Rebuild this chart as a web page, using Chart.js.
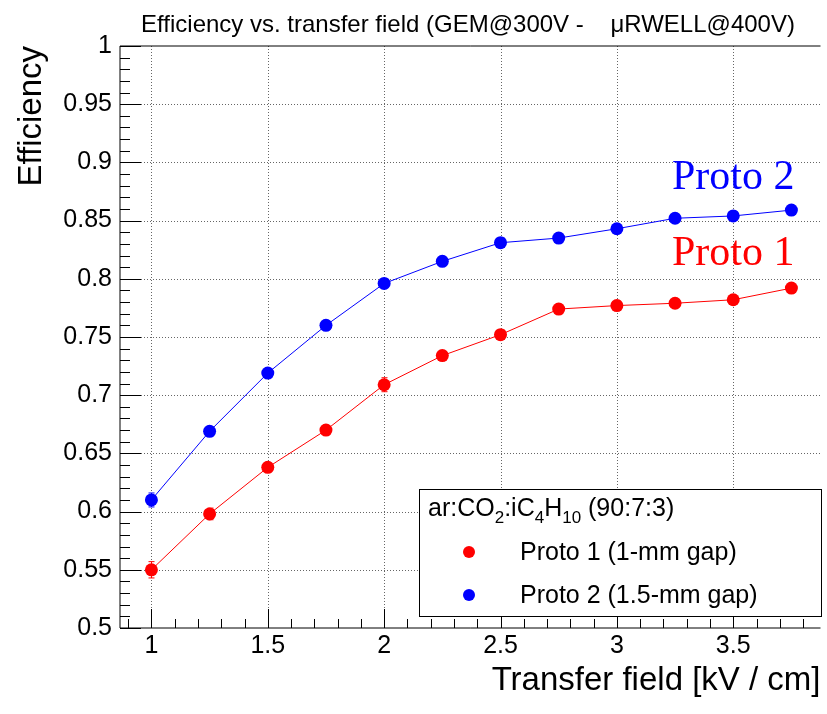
<!DOCTYPE html>
<html><head><meta charset="utf-8">
<script src="https://cdn.jsdelivr.net/npm/chart.js@4.4.0/dist/chart.umd.min.js"></script>
<style>html,body{margin:0;padding:0;background:#fff;overflow:hidden}canvas{display:block}</style>
</head><body>
<canvas id="c" width="827" height="714"></canvas>
<script>
// ---- data ----
const fieldValues = [1, 1.25, 1.5, 1.75, 2, 2.25, 2.5, 2.75, 3, 3.25, 3.5, 3.75];
const proto1Eff = [0.550, 0.598, 0.638, 0.670, 0.709, 0.734, 0.752, 0.774, 0.777, 0.779, 0.782, 0.792];
const proto1Err = [0.007, 0.005, 0.004, 0.004, 0.006, 0.004, 0.004, 0.004, 0.004, 0.004, 0.004, 0.004];
const proto2Eff = [0.610, 0.669, 0.719, 0.760, 0.796, 0.815, 0.831, 0.835, 0.843, 0.852, 0.854, 0.859];
const proto2Err = [0.006, 0.004, 0.004, 0.004, 0.004, 0.004, 0.004, 0.004, 0.004, 0.004, 0.004, 0.004];
const xTickValues = [1, 1.5, 2, 2.5, 3, 3.5];
const yTickValues = [0.5, 0.55, 0.6, 0.65, 0.7, 0.75, 0.8, 0.85, 0.9, 0.95, 1];
const seriesNames = ['Proto 1 (1-mm gap)', 'Proto 2 (1.5-mm gap)'];
const seriesTags = ['Proto 1', 'Proto 2'];
const chartTitle = 'Efficiency vs. transfer field (GEM@300V -    \u03bcRWELL@400V)';
const xTitle = 'Transfer field [kV / cm]';
const yTitle = 'Efficiency';

const SANS = '"Liberation Sans", Arial, Helvetica, sans-serif';
const SERIF = '"Liberation Serif", "Times New Roman", serif';

const toPts = (xs, ys) => xs.map((v, i) => ({x: v, y: ys[i]}));

const rootStyle = {
  id: 'rootStyle',
  beforeDatasetsDraw(chart) {
    const {ctx, chartArea: a, scales: {x, y}} = chart;
    ctx.save();
    // dotted grid
    ctx.strokeStyle = '#666';
    ctx.lineWidth = 1;
    ctx.setLineDash([1, 2]);
    xTickValues.forEach(v => {
      const px = Math.round(x.getPixelForValue(v)) + 0.5;
      if (px <= a.left + 1 || px >= a.right - 1) return;
      ctx.beginPath(); ctx.moveTo(px, a.top); ctx.lineTo(px, a.bottom); ctx.stroke();
    });
    yTickValues.forEach(v => {
      const py = Math.round(y.getPixelForValue(v)) + 0.5;
      if (py <= a.top + 1 || py >= a.bottom - 1) return;
      ctx.beginPath(); ctx.moveTo(a.left, py); ctx.lineTo(a.right, py); ctx.stroke();
    });
    ctx.setLineDash([]);
    // error bars
    chart.data.datasets.forEach(ds => {
      ctx.strokeStyle = ds.borderColor;
      ctx.lineWidth = 1;
      ds.data.forEach((p, j) => {
        const e = ds.errors[j];
        const px = Math.round(x.getPixelForValue(p.x)) + 0.5;
        const y1 = y.getPixelForValue(p.y - e), y2 = y.getPixelForValue(p.y + e);
        ctx.beginPath();
        ctx.moveTo(px, y1); ctx.lineTo(px, y2);
        ctx.moveTo(px - 3, y1); ctx.lineTo(px + 3, y1);
        ctx.moveTo(px - 3, y2); ctx.lineTo(px + 3, y2);
        ctx.stroke();
      });
    });
    ctx.restore();
  },
  afterDatasetsDraw(chart) {
    const {ctx, chartArea: a, scales: {x, y}} = chart;
    ctx.save();
    // frame
    ctx.strokeStyle = '#000';
    ctx.lineWidth = 1;
    ctx.beginPath();
    ctx.moveTo(a.left, a.top); ctx.lineTo(a.right, a.top);
    ctx.moveTo(a.left, a.top); ctx.lineTo(a.left, a.bottom);
    ctx.moveTo(a.left, a.bottom); ctx.lineTo(a.right, a.bottom);
    ctx.stroke();
    // inward ticks
    ctx.beginPath();
    for (let k = 9; k <= 38; k++) {
      const v = k / 10;
      const px = Math.round(x.getPixelForValue(v)) + 0.5;
      if (px < a.left || px > a.right) continue;
      const major = k % 5 === 0;
      ctx.moveTo(px, a.bottom); ctx.lineTo(px, a.bottom - (major ? 19 : 9));
    }
    for (let k = 50; k <= 100; k++) {
      const v = k / 100;
      const py = Math.round(y.getPixelForValue(v)) + 0.5;
      const major = k % 5 === 0;
      ctx.moveTo(a.left, py); ctx.lineTo(a.left + (major ? 21 : 10), py);
    }
    ctx.stroke();

    // legend box
    const lx = 419.5, ly = 489.5, lw = 402, lh = 127;
    ctx.fillStyle = '#fff';
    ctx.fillRect(lx, ly, lw, lh);
    ctx.strokeStyle = '#000';
    ctx.strokeRect(lx, ly, lw, lh);
    // header with subscripts
    ctx.fillStyle = '#000';
    ctx.textBaseline = 'alphabetic';
    ctx.textAlign = 'left';
    const big = '25px ' + SANS, small = '17px ' + SANS;
    const parts = [['ar:CO', 0], ['2', 1], [':iC', 0], ['4', 1], ['H', 0], ['10', 1], [' (90:7:3)', 0]];
    let cx = 428;
    parts.forEach(([t, sub]) => {
      ctx.font = sub ? small : big;
      ctx.fillText(t, cx, sub ? 523 : 516);
      cx += ctx.measureText(t).width;
    });
    // entries
    chart.data.datasets.forEach((ds, i) => {
      const cy = [552, 595][i];
      ctx.fillStyle = ds.backgroundColor;
      ctx.beginPath(); ctx.arc(469, cy, 6, 0, Math.PI * 2); ctx.fill();
      ctx.fillStyle = '#000';
      ctx.font = big;
      ctx.fillText(seriesNames[i], 520, cy + 8);
    });

    // series tags
    ctx.font = '42px ' + SERIF;
    ctx.fillStyle = '#ff0000';
    ctx.fillText(seriesTags[0], 672, 265);
    ctx.fillStyle = '#0000ff';
    ctx.fillText(seriesTags[1], 672, 189);

    // title
    ctx.fillStyle = '#000';
    ctx.font = '24px ' + SANS;
    ctx.textAlign = 'center';
    ctx.fillText(chartTitle, 468, 32);
    ctx.restore();
  }
};

new Chart(document.getElementById('c'), {
  type: 'line',
  data: {
    datasets: [
      {
        label: seriesNames[0],
        data: toPts(fieldValues, proto1Eff),
        errors: proto1Err,
        borderColor: '#ff0000',
        backgroundColor: '#ff0000',
        borderWidth: 1,
        pointRadius: 6.5,
        pointBorderWidth: 0,
        pointBackgroundColor: '#ff0000',
        tension: 0
      },
      {
        label: seriesNames[1],
        data: toPts(fieldValues, proto2Eff),
        errors: proto2Err,
        borderColor: '#0000ff',
        backgroundColor: '#0000ff',
        borderWidth: 1,
        pointRadius: 6.5,
        pointBorderWidth: 0,
        pointBackgroundColor: '#0000ff',
        tension: 0
      }
    ]
  },
  options: {
    responsive: false,
    animation: false,
    devicePixelRatio: 1,
    layout: {padding: {top: 46, left: 0, right: 0, bottom: 0}},
    plugins: {legend: {display: false}, title: {display: false}, tooltip: {enabled: false}},
    scales: {
      x: {
        type: 'linear',
        min: 0.865,
        max: 3.875,
        grid: {display: false, drawTicks: false},
        border: {display: false},
        afterBuildTicks: s => { s.ticks = xTickValues.map(v => ({value: v})); },
        afterFit: s => { s.height = 86; },
        ticks: {
          padding: 3,
          color: '#000',
          font: {family: SANS, size: 25},
          maxRotation: 0,
          autoSkip: false,
          callback: v => String(Number(v.toFixed(2)))
        },
        title: {
          display: true, text: xTitle, align: 'end', color: '#000',
          font: {family: SANS, size: 33}, padding: {top: 0, bottom: 13}
        }
      },
      y: {
        type: 'linear',
        min: 0.5,
        max: 1,
        grid: {display: false, drawTicks: false},
        border: {display: false},
        afterBuildTicks: s => { s.ticks = yTickValues.map(v => ({value: v})); },
        afterFit: s => { s.width = 120; },
        ticks: {
          padding: 8,
          color: '#000',
          font: {family: SANS, size: 25},
          autoSkip: false,
          callback: v => String(Number(v.toFixed(2)))
        },
        title: {
          display: true, text: yTitle, align: 'end', color: '#000',
          font: {family: SANS, size: 33}, padding: {top: 12, bottom: 0}
        }
      }
    }
  },
  plugins: [rootStyle]
});
</script>
</body></html>
